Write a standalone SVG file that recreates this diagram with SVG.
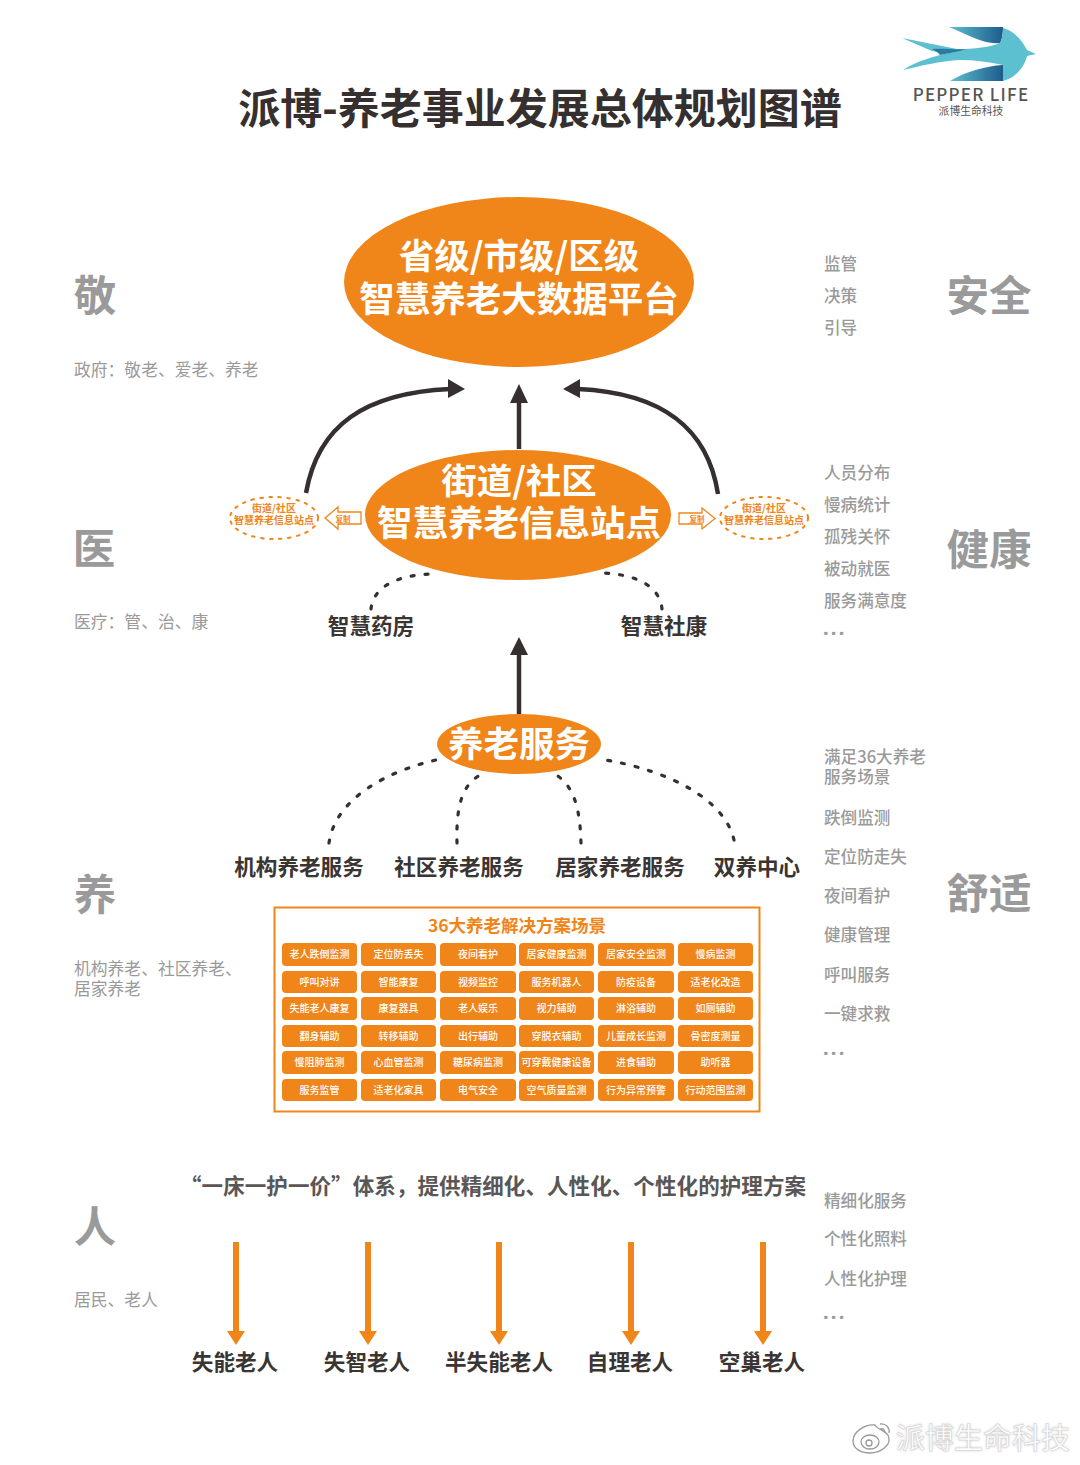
<svg xmlns="http://www.w3.org/2000/svg" width="1080" height="1465" viewBox="0 0 1080 1465">
<defs>
<linearGradient id="wg1" x1="0" x2="1" y1="0" y2="0"><stop offset="0" stop-color="#5cc0d0"/><stop offset="1" stop-color="#1d5c8c"/></linearGradient>
<linearGradient id="wg2" x1="0" x2="1" y1="0" y2="0"><stop offset="0" stop-color="#5cc0d0"/><stop offset="1" stop-color="#1d5c8c"/></linearGradient>
<filter id="sh" x="-10%" y="-30%" width="120%" height="160%"><feGaussianBlur stdDeviation="1.5"/></filter>
</defs>
<style>
text{font-family:"Noto Sans CJK SC","Noto Sans",sans-serif}
.b{font-weight:700}
.big{font-weight:700;font-size:42.5px;fill:#9a9a9a;text-anchor:middle}
.g{font-size:16.8px;fill:#9a9a9a}
.gb{font-size:16.6px;font-weight:500;fill:#9a9a9a}
.more{font-family:"Noto Sans",sans-serif;font-size:20px;font-weight:700;letter-spacing:2.2px;fill:#9a9a9a}
.h{font-size:21.6px;font-weight:700;fill:#3a3533;text-anchor:middle}
.w{fill:#fff;font-weight:700;text-anchor:middle}
.cell rect{fill:#f08519}
.cell text{fill:#fff;font-size:10px;font-weight:500;text-anchor:middle}
.dot{fill:none;stroke:#35302f;stroke-width:3.2;stroke-dasharray:3 11;stroke-linecap:round}
.odot{fill:#fff;stroke:#f08519;stroke-width:2;stroke-dasharray:2.5 6.5;stroke-linecap:round}
.oarrow{fill:#fff;stroke:#f08519;stroke-width:1.3}
.ol{fill:#f08519;font-weight:700;text-anchor:middle}
.dk{fill:none;stroke:#35302f;stroke-width:4.5}
.dd{fill:#35302f}
.os{fill:#f08519}
</style>
<rect width="1080" height="1465" fill="#fff"/>

<g id="title"><text class="b" x="540" y="124" font-size="42" fill="#35302f" text-anchor="middle">派博-养老事业发展总体规划图谱</text></g>

<g id="logo">
<path d="M949 27H1003C1003 33 1002 40 1000 43C985 45 968 35 949 27Z" fill="url(#wg1)"/>
<path d="M950 81C965 72 985 66 1003 65V81Z" fill="url(#wg2)"/>
<path d="M902 38L957 49C975 49 990 47 1000 43C1002 40 1003 33 1003 28C1015 31 1023 42 1027 50L1036 54L1027 56C1024 68 1015 78 1003 81V65C990 62 975 60 960 60C940 61 920 66 903 70C915 62 935 55 955 52C945 50 938 53 932 51Z" fill="#5cc0d0"/>
<path d="M932 49C942 48 955 50 966 49C958 52 948 53 940 55C938 52 935 51 932 49Z" fill="#2a7ba0"/>
<text x="971" y="100.500" font-size="17" font-weight="500" letter-spacing="1.250" fill="#555" text-anchor="middle" font-family="'Noto Sans',sans-serif">PEPPER LIFE</text>
<text x="971" y="114.500" font-size="10.800" fill="#555" text-anchor="middle">派博生命科技</text>
</g>

<g id="connectors">
<path class="dk" d="M519 449V400"/><path class="dd" d="M510 403L519 384L528 403Z"/>
<path class="dk" d="M306 493C318 425 365 393 450 389"/><path class="dd" d="M448 379L465 389L448 398Z"/>
<path class="dk" d="M718 494C708 430 665 393 578 389"/><path class="dd" d="M580 379L563 389L580 398Z"/>
<path class="dk" d="M519 714V652"/><path class="dd" d="M510 655L519 637L528 655Z"/>
<path class="dot" d="M371 609C373 588 395 575 432 574"/>
<path class="dot" d="M662 609C660 588 640 575 604 573"/>
<path class="dot" d="M329 843C335 800 385 770 445 758"/>
<path class="dot" d="M457 843C456 805 462 783 484 773"/>
<path class="dot" d="M581 843C580 810 575 785 553 773"/>
<path class="dot" d="M734 840C725 800 670 770 600 759"/>
<g fill="#f08519">
<path d="M233 1242h6v89h6l-9 14l-9-14h6z"/>
<path d="M365 1242h6v89h6l-9 14l-9-14h6z"/>
<path d="M496 1242h6v89h6l-9 14l-9-14h6z"/>
<path d="M628 1242h6v89h6l-9 14l-9-14h6z"/>
<path d="M760 1242h6v89h6l-9 14l-9-14h6z"/>
</g>
</g>

<g id="node-platform"><ellipse cx="519" cy="282" rx="175" ry="85" class="os"/>
<text class="w" x="519" y="269" font-size="35.500">省级/市级/区级</text>
<text class="w" x="519" y="311.500" font-size="35.500">智慧养老大数据平台</text></g>

<g id="node-station"><ellipse cx="518" cy="515" rx="153" ry="65" class="os"/>
<text class="w" x="519" y="494" font-size="35.500">街道/社区</text>
<text class="w" x="519" y="536" font-size="35.500">智慧养老信息站点</text></g>

<g id="node-left-station"><ellipse cx="274" cy="518" rx="44" ry="21" class="odot"/>
<text class="ol" x="274" y="512" font-size="10">街道/社区</text>
<text class="ol" x="274" y="524" font-size="10">智慧养老信息站点</text></g>
<g id="node-left-copy"><path class="oarrow" d="M361 512V524H338V529L325 518L338 507V512Z"/>
<text class="ol" x="343" y="521.500" font-size="7.500">复制</text></g>
<g id="node-right-station"><ellipse cx="764" cy="518" rx="44" ry="21" class="odot"/>
<text class="ol" x="764" y="512" font-size="10">街道/社区</text>
<text class="ol" x="764" y="524" font-size="10">智慧养老信息站点</text></g>
<g id="node-right-copy"><path class="oarrow" d="M679 513V524H702V529L715 518.500L702 508V513Z"/>
<text class="ol" x="697" y="521.500" font-size="7.500">复制</text></g>

<g id="node-pharmacy"><text class="h" x="371" y="634">智慧药房</text></g>
<g id="node-kang"><text class="h" x="664" y="634">智慧社康</text></g>

<g id="node-service"><ellipse cx="519" cy="744" rx="82" ry="30" class="os"/>
<text class="w" x="519" y="757" font-size="35.500">养老服务</text></g>

<g id="node-s1"><text class="h" x="299" y="875">机构养老服务</text></g>
<g id="node-s2"><text class="h" x="459" y="875">社区养老服务</text></g>
<g id="node-s3"><text class="h" x="620" y="875">居家养老服务</text></g>
<g id="node-s4"><text class="h" x="757" y="875">双养中心</text></g>

<g id="node-scenes">
<rect x="274.500" y="907.500" width="485" height="204" fill="#fff" stroke="#f08519" stroke-width="2"/>
<text class="ol" x="517" y="932" font-size="17.500">36大养老解决方案场景</text>
<g class="cell">
<rect x="282" y="943" width="75" height="23" rx="4"/><text x="319.500" y="958">老人跌倒监测</text>
<rect x="361" y="943" width="75" height="23" rx="4"/><text x="398.500" y="958">定位防丢失</text>
<rect x="440" y="943" width="76" height="23" rx="4"/><text x="478" y="958">夜间看护</text>
<rect x="519" y="943" width="75" height="23" rx="4"/><text x="556.500" y="958">居家健康监测</text>
<rect x="598" y="943" width="76" height="23" rx="4"/><text x="636" y="958">居家安全监测</text>
<rect x="678" y="943" width="75" height="23" rx="4"/><text x="715.500" y="958">慢病监测</text>
<rect x="282" y="971" width="75" height="22" rx="4"/><text x="319.500" y="985.500">呼叫对讲</text>
<rect x="361" y="971" width="75" height="22" rx="4"/><text x="398.500" y="985.500">智能康复</text>
<rect x="440" y="971" width="76" height="22" rx="4"/><text x="478" y="985.500">视频监控</text>
<rect x="519" y="971" width="75" height="22" rx="4"/><text x="556.500" y="985.500">服务机器人</text>
<rect x="598" y="971" width="76" height="22" rx="4"/><text x="636" y="985.500">防疫设备</text>
<rect x="678" y="971" width="75" height="22" rx="4"/><text x="715.500" y="985.500">适老化改造</text>
<rect x="282" y="997" width="75" height="23" rx="4"/><text x="319.500" y="1012">失能老人康复</text>
<rect x="361" y="997" width="75" height="23" rx="4"/><text x="398.500" y="1012">康复器具</text>
<rect x="440" y="997" width="76" height="23" rx="4"/><text x="478" y="1012">老人娱乐</text>
<rect x="519" y="997" width="75" height="23" rx="4"/><text x="556.500" y="1012">视力辅助</text>
<rect x="598" y="997" width="76" height="23" rx="4"/><text x="636" y="1012">淋浴辅助</text>
<rect x="678" y="997" width="75" height="23" rx="4"/><text x="715.500" y="1012">如厕辅助</text>
<rect x="282" y="1025" width="75" height="22" rx="4"/><text x="319.500" y="1039.500">翻身辅助</text>
<rect x="361" y="1025" width="75" height="22" rx="4"/><text x="398.500" y="1039.500">转移辅助</text>
<rect x="440" y="1025" width="76" height="22" rx="4"/><text x="478" y="1039.500">出行辅助</text>
<rect x="519" y="1025" width="75" height="22" rx="4"/><text x="556.500" y="1039.500">穿脱衣辅助</text>
<rect x="598" y="1025" width="76" height="22" rx="4"/><text x="636" y="1039.500">儿童成长监测</text>
<rect x="678" y="1025" width="75" height="22" rx="4"/><text x="715.500" y="1039.500">骨密度测量</text>
<rect x="282" y="1051" width="75" height="23" rx="4"/><text x="319.500" y="1066">慢阻肺监测</text>
<rect x="361" y="1051" width="75" height="23" rx="4"/><text x="398.500" y="1066">心血管监测</text>
<rect x="440" y="1051" width="76" height="23" rx="4"/><text x="478" y="1066">糖尿病监测</text>
<rect x="519" y="1051" width="75" height="23" rx="4"/><text x="556.500" y="1066">可穿戴健康设备</text>
<rect x="598" y="1051" width="76" height="23" rx="4"/><text x="636" y="1066">进食辅助</text>
<rect x="678" y="1051" width="75" height="23" rx="4"/><text x="715.500" y="1066">助听器</text>
<rect x="282" y="1079" width="75" height="22" rx="4"/><text x="319.500" y="1093.500">服务监管</text>
<rect x="361" y="1079" width="75" height="22" rx="4"/><text x="398.500" y="1093.500">适老化家具</text>
<rect x="440" y="1079" width="76" height="22" rx="4"/><text x="478" y="1093.500">电气安全</text>
<rect x="519" y="1079" width="75" height="22" rx="4"/><text x="556.500" y="1093.500">空气质量监测</text>
<rect x="598" y="1079" width="76" height="22" rx="4"/><text x="636" y="1093.500">行为异常预警</text>
<rect x="678" y="1079" width="75" height="22" rx="4"/><text x="715.500" y="1093.500">行动范围监测</text>
</g></g>

<g id="node-care-title"><text x="180" y="1194" font-size="21.500" font-weight="700" fill="#595655" textLength="626" lengthAdjust="spacing">“一床一护一价”体系，提供精细化、人性化、个性化的护理方案</text></g>
<g id="node-p1"><text class="h" x="235" y="1370">失能老人</text></g>
<g id="node-p2"><text class="h" x="367" y="1370">失智老人</text></g>
<g id="node-p3"><text class="h" x="499" y="1370">半失能老人</text></g>
<g id="node-p4"><text class="h" x="630" y="1370">自理老人</text></g>
<g id="node-p5"><text class="h" x="762" y="1370">空巢老人</text></g>

<g id="left-labels">
<text class="big" x="95" y="311">敬</text>
<text class="g" x="74" y="376">政府：敬老、爱老、养老</text>
<text class="big" x="94" y="564">医</text>
<text class="g" x="74" y="628">医疗：管、治、康</text>
<text class="big" x="95" y="910">养</text>
<text class="g" x="74" y="974.500">机构养老、社区养老、</text>
<text class="g" x="74" y="994.500">居家养老</text>
<text class="big" x="95" y="1242">人</text>
<text class="g" x="74" y="1306">居民、老人</text>
</g>

<g id="right-labels">
<text class="big" x="989" y="311">安全</text>
<text class="gb" x="824" y="269.500">监管</text>
<text class="gb" x="824" y="301.500">决策</text>
<text class="gb" x="824" y="333.500">引导</text>
<text class="big" x="989" y="565">健康</text>
<text class="gb" x="824" y="478.500">人员分布</text>
<text class="gb" x="824" y="510.500">慢病统计</text>
<text class="gb" x="824" y="542.500">孤残关怀</text>
<text class="gb" x="824" y="574.500">被动就医</text>
<text class="gb" x="824" y="606.500">服务满意度</text>
<text class="more" x="823" y="635">...</text>
<text class="big" x="989" y="909">舒适</text>
<text class="gb" x="824" y="762.500">满足36大养老</text>
<text class="gb" x="824" y="782.500">服务场景</text>
<text class="gb" x="824" y="823.500">跌倒监测</text>
<text class="gb" x="824" y="862.500">定位防走失</text>
<text class="gb" x="824" y="901.500">夜间看护</text>
<text class="gb" x="824" y="941">健康管理</text>
<text class="gb" x="824" y="980.500">呼叫服务</text>
<text class="gb" x="824" y="1019.500">一键求救</text>
<text class="more" x="823" y="1055">...</text>
<text class="gb" x="824" y="1206.500">精细化服务</text>
<text class="gb" x="824" y="1245">个性化照料</text>
<text class="gb" x="824" y="1284.500">人性化护理</text>
<text class="more" x="823" y="1319">...</text>
</g>

<g id="watermark">
<text x="983" y="1449" font-size="29" fill="#777" opacity=".45" text-anchor="middle" filter="url(#sh)">派博生命科技</text>
<text x="983" y="1449" font-size="29" fill="#fff" stroke="#cfcfcf" stroke-width=".5" text-anchor="middle">派博生命科技</text>
<g fill="none" stroke="#9a9a9a" stroke-width="1.300">
<path d="M853 1441C853 1431 866 1424 875 1425C877 1429 884 1430 888 1435C893 1445 880 1453 870 1453C860 1453 853 1448 853 1441Z"/>
<ellipse cx="870" cy="1442" rx="9" ry="7"/><circle cx="869" cy="1443" r="3"/>
<path d="M880 1424C886 1423 890 1428 889 1433"/><path d="M880 1429C883 1428 885 1430 885 1433"/>
</g></g>
</svg>
